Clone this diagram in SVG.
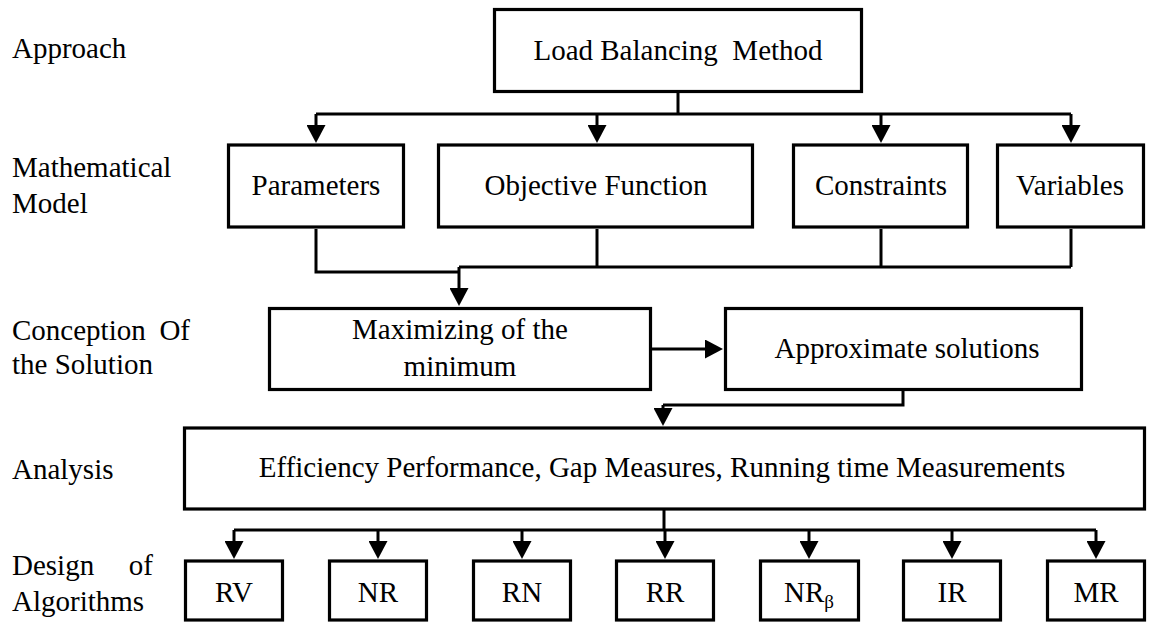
<svg xmlns="http://www.w3.org/2000/svg" width="1152" height="625" viewBox="0 0 1152 625">
  <style>
    .box { fill: #ffffff; stroke: #000000; stroke-width: 3.2; }
    .wire { fill: none; stroke: #000000; stroke-width: 3; stroke-linejoin: miter; }
    .arrow { marker-end: url(#head); }
    .lbl { font-family: 'Liberation Serif', Tinos, 'Times New Roman', 'DejaVu Serif', serif; font-size: 29px; fill: #000000; }
    .mid { text-anchor: middle; }
    .end { text-anchor: end; }
    .sub { font-size: 19px; }
  </style>
  <defs>
    <marker id="head" viewBox="0 0 18 19" refX="1" refY="9.5" markerWidth="18" markerHeight="19" markerUnits="userSpaceOnUse" orient="auto">
      <path d="M0,0 L18,9.5 L0,19 Z" fill="#000000"/>
    </marker>
  </defs>

  <rect width="1152" height="625" fill="#ffffff"/>

  <g font-family="Liberation Serif, Tinos, Times New Roman, DejaVu Serif, serif" font-size="29">

  <!-- row labels -->
  <g id="row-labels">
    <text class="lbl" x="12" y="58">Approach</text>
    <text class="lbl" x="12" y="177">Mathematical</text>
    <text class="lbl" x="12" y="213">Model</text>
    <text class="lbl" x="12" y="340">Conception</text>
    <text class="lbl end" x="190" y="340">Of</text>
    <text class="lbl" x="12" y="374">the Solution</text>
    <text class="lbl" x="12" y="479">Analysis</text>
    <text class="lbl" x="12" y="575">Design</text>
    <text class="lbl end" x="153" y="575">of</text>
    <text class="lbl" x="12" y="611">Algorithms</text>
  </g>

  <!-- connectors -->
  <g id="connectors">
    <!-- method to model components -->
    <path class="wire" d="M678,92 V114"/>
    <path class="wire" d="M316,114 H1071"/>
    <path class="wire arrow" d="M316,114 V126"/>
    <path class="wire arrow" d="M597,114 V126"/>
    <path class="wire arrow" d="M881,114 V126"/>
    <path class="wire arrow" d="M1071,114 V126"/>
    <!-- model components merge into the solution concept -->
    <path class="wire" d="M316,229 V272 H459"/>
    <path class="wire" d="M597,229 V267"/>
    <path class="wire" d="M881,229 V267"/>
    <path class="wire" d="M1071,229 V267"/>
    <path class="wire" d="M459,267 H1071"/>
    <path class="wire arrow" d="M459,267 V289"/>
    <!-- maximizing to approximate -->
    <path class="wire arrow" d="M652,349 H706"/>
    <!-- approximate to analysis -->
    <path class="wire" d="M903,391 V405 H663"/>
    <path class="wire arrow" d="M663,405 V409"/>
    <!-- analysis to algorithms -->
    <path class="wire" d="M664,509 V530"/>
    <path class="wire" d="M234,530 H1096"/>
    <path class="wire arrow" d="M234,530 V542"/>
    <path class="wire arrow" d="M378,530 V542"/>
    <path class="wire arrow" d="M522,530 V542"/>
    <path class="wire arrow" d="M665,530 V542"/>
    <path class="wire arrow" d="M809,530 V542"/>
    <path class="wire arrow" d="M952,530 V542"/>
    <path class="wire arrow" d="M1096,530 V542"/>
  </g>

  <!-- approach -->
  <g id="load-balancing">
    <rect class="box" x="494.5" y="9.5" width="367" height="82"/>
    <text class="lbl mid" x="678" y="60">Load Balancing&#160; Method</text>
  </g>

  <!-- mathematical model -->
  <g id="parameters">
    <rect class="box" x="228.5" y="145" width="175" height="82"/>
    <text class="lbl mid" x="316" y="195">Parameters</text>
  </g>
  <g id="objective-function">
    <rect class="box" x="438.5" y="145" width="314" height="82"/>
    <text class="lbl mid" x="596" y="195">Objective Function</text>
  </g>
  <g id="constraints">
    <rect class="box" x="793.5" y="145" width="174" height="82"/>
    <text class="lbl mid" x="881" y="195">Constraints</text>
  </g>
  <g id="variables">
    <rect class="box" x="997.5" y="145" width="146" height="82"/>
    <text class="lbl mid" x="1070" y="195">Variables</text>
  </g>

  <!-- conception of the solution -->
  <g id="maximizing">
    <rect class="box" x="269.5" y="308.5" width="381" height="81"/>
    <text class="lbl mid" x="460" y="339">Maximizing of the</text>
    <text class="lbl mid" x="460" y="376">minimum</text>
  </g>
  <g id="approximate">
    <rect class="box" x="725.5" y="308.5" width="356" height="81"/>
    <text class="lbl mid" x="907" y="358">Approximate solutions</text>
  </g>

  <!-- analysis -->
  <g id="analysis">
    <rect class="box" x="184.5" y="428" width="960" height="81"/>
    <text class="lbl mid" x="662" y="477">Efficiency Performance, Gap Measures, Running time Measurements</text>
  </g>

  <!-- algorithms -->
  <g id="alg-rv">
    <rect class="box" x="185.5" y="561" width="97" height="59"/>
    <text class="lbl mid" x="234" y="602">RV</text>
  </g>
  <g id="alg-nr">
    <rect class="box" x="329.5" y="561" width="97" height="59"/>
    <text class="lbl mid" x="378" y="602">NR</text>
  </g>
  <g id="alg-rn">
    <rect class="box" x="473.5" y="561" width="97" height="59"/>
    <text class="lbl mid" x="522" y="602">RN</text>
  </g>
  <g id="alg-rr">
    <rect class="box" x="616.5" y="561" width="97" height="59"/>
    <text class="lbl mid" x="665" y="602">RR</text>
  </g>
  <g id="alg-nrb">
    <rect class="box" x="760.5" y="561" width="98" height="59"/>
    <text class="lbl mid" x="809" y="602">NR<tspan class="sub" dy="6">β</tspan></text>
  </g>
  <g id="alg-ir">
    <rect class="box" x="903.5" y="561" width="97" height="59"/>
    <text class="lbl mid" x="952" y="602">IR</text>
  </g>
  <g id="alg-mr">
    <rect class="box" x="1047.5" y="561" width="97" height="59"/>
    <text class="lbl mid" x="1096" y="602">MR</text>
  </g>

  </g>
</svg>
